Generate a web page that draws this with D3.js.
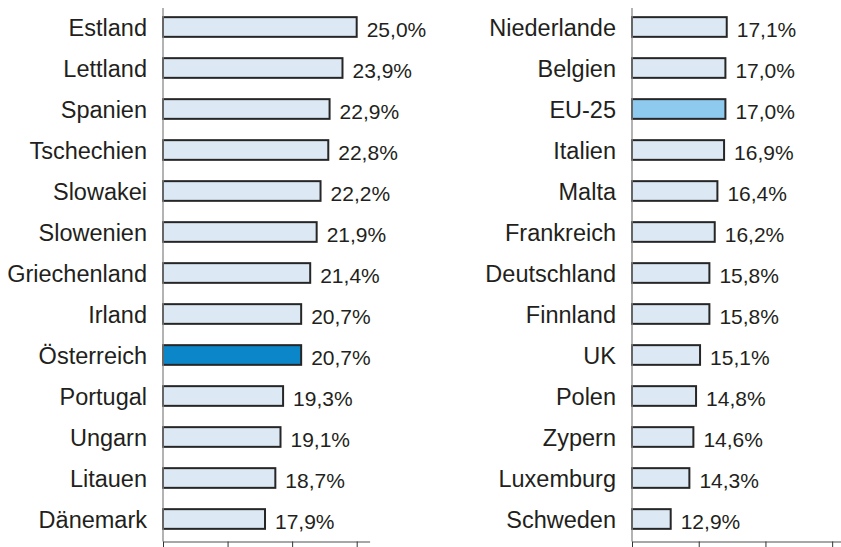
<!DOCTYPE html>
<html><head><meta charset="utf-8">
<script src="https://cdn.jsdelivr.net/npm/d3@7"></script>
<style>body{margin:0;background:#fff}svg{display:block}</style>
</head><body>
<svg id="c" width="841" height="547"></svg>
<script>
const leftCategories = ["Estland","Lettland","Spanien","Tschechien","Slowakei","Slowenien","Griechenland","Irland","Österreich","Portugal","Ungarn","Litauen","Dänemark"];
const leftValues = [25.0,23.9,22.9,22.8,22.2,21.9,21.4,20.7,20.7,19.3,19.1,18.7,17.9];
const rightCategories = ["Niederlande","Belgien","EU-25","Italien","Malta","Frankreich","Deutschland","Finnland","UK","Polen","Zypern","Luxemburg","Schweden"];
const rightValues = [17.1,17.0,17.0,16.9,16.4,16.2,15.8,15.8,15.1,14.8,14.6,14.3,12.9];
const tickValues = [10,15,20,25];
const highlightStrong = ["Österreich"];
const highlightLight = ["EU-25"];

const svg = d3.select("#c");
const fmt = v => v.toFixed(1).replace(".", ",") + "%";

function panel(cats, vals, x0, x1) {
  const x = d3.scaleLinear().domain([10, 26]).range([x0, x1]);
  const y = d3.scaleBand().domain(cats).range([6.5, 539.5]).paddingInner(0.52).paddingOuter(0.26);
  const g = svg.append("g");
  const data = cats.map((c, i) => ({c, v: vals[i]}));

  g.selectAll("rect.bar").data(data).enter().append("rect")
    .attr("x", x(10)).attr("y", d => y(d.c))
    .attr("width", d => x(d.v) - x(10)).attr("height", y.bandwidth())
    .attr("fill", d => highlightStrong.includes(d.c) ? "#0a86c9" : highlightLight.includes(d.c) ? "#8ecaee" : "#dce8f3")
    .attr("stroke", "#262626").attr("stroke-width", 2);

  g.selectAll("text.cat").data(data).enter().append("text")
    .attr("x", x(10) - 16).attr("y", d => y(d.c) + y.bandwidth() / 2 + 9)
    .attr("text-anchor", "end").attr("font-family", "Liberation Sans, Arial, sans-serif")
    .attr("font-size", 23.5).attr("fill", "#231f20").text(d => d.c);

  g.selectAll("text.val").data(data).enter().append("text")
    .attr("x", d => x(d.v) + 10).attr("y", d => y(d.c) + y.bandwidth() / 2 + 9.5)
    .attr("font-family", "Liberation Sans, Arial, sans-serif")
    .attr("font-size", 21).attr("fill", "#231f20").text(d => fmt(d.v));

  // vertical axis line
  g.append("line").attr("x1", x(10)).attr("x2", x(10)).attr("y1", 8).attr("y2", 541.5)
    .attr("stroke", "#8a8a8a").attr("stroke-width", 1.3);

  const ax = g.append("g").attr("transform", "translate(0,541.5)")
    .call(d3.axisBottom(x).tickValues(tickValues).tickFormat("").tickSize(7).tickSizeOuter(0));
  ax.select(".domain").attr("stroke", "#8a8a8a").attr("stroke-width", 1.5);
  ax.selectAll(".tick line").attr("stroke", "#333").attr("stroke-width", 1);
}

panel(leftCategories, leftValues, 163, 369.6);
panel(rightCategories, rightValues, 632, 845.5);
</script>
</body></html>
